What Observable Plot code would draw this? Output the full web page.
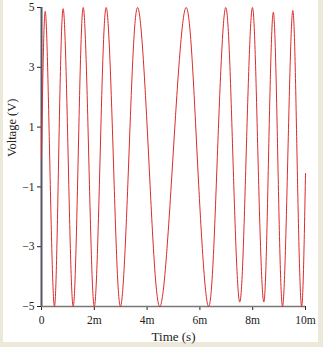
<!DOCTYPE html>
<html><head><meta charset="utf-8">
<script src="https://cdn.jsdelivr.net/npm/d3@7"></script>
<script src="https://cdn.jsdelivr.net/npm/@observablehq/plot@0.6"></script>
<style>
html,body{margin:0;padding:0;background:#ece9d8;overflow:hidden;}
#wrap{position:relative;width:323px;height:347px;}
#panel{position:absolute;left:3px;top:0;width:315px;height:342px;background:#fff;}
#chart{position:absolute;left:0;top:0;}
</style></head><body>
<div id="wrap"><div id="panel"></div><div id="chart"></div></div>
<script>
// Time in milliseconds, voltage in volts (extrema and zero crossings)
const timeMs = [0, 0.14, 0.31, 0.49, 0.65, 0.82, 1.01, 1.20, 1.39, 1.58, 1.79, 2.00, 2.22, 2.45, 2.72, 2.99,
  3.31, 3.64, 4.06, 4.48, 4.98, 5.48, 5.90, 6.33, 6.66, 6.98, 7.25, 7.51, 7.75, 7.99, 8.20, 8.42,
  8.60, 8.78, 8.95, 9.13, 9.33, 9.52, 9.68, 9.85, 10.0];
const voltage = [0, 4.87, 0, -5, 0, 4.96, 0, -5, 0, 5, 0, -5, 0, 5, 0, -5,
  0, 5, 0, -5, 0, 5, 0, -5, 0, 5, 0, -4.85, 0, 5, 0, -4.85,
  0, 4.84, 0, -5, 0, 4.9, 0, -5, -0.55];
const xTicks = [0, 2, 4, 6, 8, 10];
const xTickLabels = ["0", "2m", "4m", "6m", "8m", "10m"];
const yTicks = [-5, -3, -1, 1, 3, 5];
const yTickLabels = ["\u22125", "\u22123", "\u22121", "1", "3", "5"];
const xTitle = "Time (s)";
const yTitle = "Voltage (V)";

const data = timeMs.map((t, i) => ({t, v: voltage[i]}));

const chart = Plot.plot({
  width: 323,
  height: 347,
  marginLeft: 41,
  marginRight: 18,
  marginTop: 7,
  marginBottom: 41,
  style: {background: "transparent", fontFamily: "'Liberation Serif', serif", fontSize: "11.5px", color: "#222"},
  x: {domain: [0, 10]},
  y: {domain: [-5, 5]},
  marks: [
    Plot.axisX({ticks: xTicks, tickSize: 4, tickPadding: 5,
      tickFormat: d => xTickLabels[xTicks.indexOf(d)], label: null}),
    Plot.axisY({ticks: yTicks, tickSize: 4, tickPadding: 3,
      tickFormat: d => yTickLabels[yTicks.indexOf(d)], label: null}),
    Plot.text([xTitle], {frameAnchor: "bottom", dy: 34, fontSize: 13, fill: "#222"}),
    Plot.text([yTitle], {frameAnchor: "left", dx: -30, rotate: -90, fontSize: 12.5, fill: "#222"}),
    Plot.ruleX([0], {stroke: "#556", strokeWidth: 2}),
    Plot.ruleY([-5], {stroke: "#777", strokeWidth: 1.5}),
    Plot.line(data, {x: "t", y: "v", curve: "natural", stroke: "#dd2a2a", strokeWidth: 1})
  ]
});
document.getElementById("chart").appendChild(chart);
</script>
</body></html>
